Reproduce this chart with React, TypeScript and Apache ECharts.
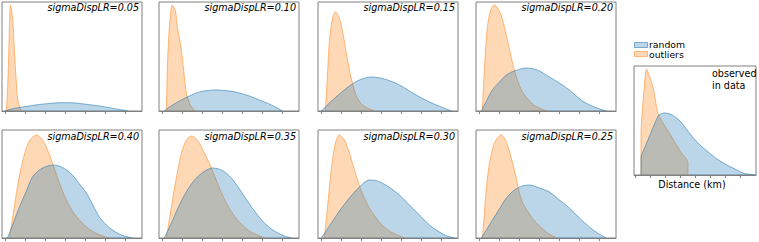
import React, { useEffect, useRef } from "react";
import * as echarts from "echarts";

// Titles of the eight simulation panels (row 1 then row 2, left to right)
const panelTitles = [
  "sigmaDispLR=0.05",
  "sigmaDispLR=0.10",
  "sigmaDispLR=0.15",
  "sigmaDispLR=0.20",
  "sigmaDispLR=0.40",
  "sigmaDispLR=0.35",
  "sigmaDispLR=0.30",
  "sigmaDispLR=0.25",
];

// Distance ticks (km)
const smallTicks = [0, 1, 2, 3, 4, 5, 6];
const obsTicks = [0, 1, 2, 3, 4, 5, 6, 7];

// Density curves [distance km, density (scaled)]
const outliers005: [number, number][] = [[0.05,0],[0.12,28],[0.17,61],[0.2,84],[0.25,106],[0.3,102],[0.37,91],[0.45,61],[0.54,31],[0.62,11],[0.74,3],[0.8,0]];
const random005: [number, number][] = [[0.0,0],[0.2,1.5],[0.7,3.5],[1.2,5],[1.7,6.5],[2.2,7.5],[2.7,8.3],[3.2,8.3],[3.7,7.5],[4.2,6.3],[4.7,5],[5.2,3.3],[5.7,1.5],[6.1,0.3]];

const outliers010: [number, number][] = [[0.2,0],[0.25,44],[0.35,84],[0.5,106],[0.65,100],[0.75,84],[0.95,61],[1.2,18],[1.4,6],[1.65,0]];
const random010: [number, number][] = [[0.1,0],[0.35,4],[0.85,10],[1.35,15],[1.85,19],[2.6,21],[3.35,20],[3.85,18],[4.35,15],[4.85,11],[5.35,7],[5.75,3],[6.0,0]];

const outliers015: [number, number][] = [[0.2,0],[0.3,35],[0.4,70],[0.55,92],[0.7,99],[0.9,93],[1.1,75],[1.3,52],[1.5,32],[1.75,15],[2.05,6],[2.4,2],[2.65,0]];
const random015: [number, number][] = [[0,0],[0.4,8],[0.9,17],[1.4,25],[1.9,31],[2.5,34],[3.15,32],[3.9,26],[4.65,17],[5.4,9],[6.0,4],[6.5,0]];

const outliers020: [number, number][] = [[0.15,0],[0.25,43],[0.4,84],[0.55,100],[0.75,106],[1.0,100],[1.2,88],[1.4,71],[1.75,41],[2.1,21],[2.65,7],[3.0,3],[3.35,0]];
const random020: [number, number][] = [[0.1,0],[0.35,10],[0.65,21],[1.0,29],[1.35,36],[1.75,40],[2.35,43],[2.9,41],[3.5,34],[4.0,28],[4.5,21],[5.15,10],[5.75,4],[6.35,0]];

const outliers040: [number, number][] = [[0.2,0],[0.4,25],[0.6,51],[0.9,80],[1.2,97],[1.55,103],[1.95,95],[2.35,75],[2.7,55],[3.05,38],[3.45,24],[4.05,11],[4.6,4],[5.2,0]];
const random040: [number, number][] = [[0.1,0],[0.4,15],[0.7,31],[1.05,47],[1.35,61],[1.7,68],[2.1,72],[2.45,73],[2.9,70],[3.35,63],[3.7,54],[4.05,45],[4.4,32],[4.7,21],[5.05,13],[5.35,8],[5.8,3],[6.35,0]];

const outliers035: [number, number][] = [[0.2,0],[0.4,25],[0.65,55],[0.95,85],[1.2,98],[1.45,102],[1.75,98],[2.1,85],[2.45,70],[2.85,50],[3.25,33],[3.75,18],[4.35,7],[5.1,0]];
const random035: [number, number][] = [[0.1,0],[0.45,15],[0.85,33],[1.25,48],[1.65,59],[2.05,66],[2.5,70],[2.95,68],[3.35,62],[3.75,52],[4.15,40],[4.6,27],[5.1,15],[5.6,7],[6.1,2],[6.45,0]];

const outliers030: [number, number][] = [[0.15,0],[0.3,30],[0.5,70],[0.7,95],[0.9,103],[1.15,98],[1.4,85],[1.7,65],[2.0,47],[2.4,30],[2.9,16],[3.4,7],[4.15,0]];
const random030: [number, number][] = [[0,0],[0.4,12],[0.9,27],[1.4,40],[1.9,51],[2.4,58],[2.8,57],[3.3,52],[3.9,43],[4.4,33],[4.9,23],[5.4,13],[5.9,6],[6.3,2],[6.65,0]];

const outliers025: [number, number][] = [[0.15,0],[0.25,25],[0.35,51],[0.55,80],[0.8,97],[1.1,103],[1.4,93],[1.75,68],[2.1,38],[2.5,24],[2.85,15],[3.35,6],[3.85,0]];
const random025: [number, number][] = [[0.1,0],[0.35,8],[0.65,18],[1.0,29],[1.35,40],[1.75,48],[2.15,52],[2.5,53],[3.0,50],[3.5,46],[4.0,38],[4.5,30],[5.0,20],[5.5,11],[5.9,5],[6.35,0]];

const outliersObs: [number, number][] = [[0.4,0],[0.4,40],[0.47,60],[0.6,85],[0.77,106],[0.93,100],[1.2,88],[1.53,62],[1.87,52],[2.53,36],[3.0,24],[3.53,12],[3.53,0]];
const randomObs: [number, number][] = [[0.4,0],[0.4,17],[0.67,28],[1.0,40],[1.33,52],[1.6,60],[2.0,62],[2.47,60],[3.0,54],[3.47,45],[4.13,33],[4.8,24],[5.47,16],[6.13,10],[6.67,6],[7.2,2],[8.0,0]];

const legendLabels = ["random", "outliers"];
const obsLabel = ["observed", "in data"];
const xAxisName = "Distance (km)";

const panelOutliers = [outliers005, outliers010, outliers015, outliers020, outliers040, outliers035, outliers030, outliers025];
const panelRandom = [random005, random010, random015, random020, random040, random035, random030, random025];

const BLUE = "#1f77b4";
const ORANGE = "#ff7f0e";
const FILL_BLUE = "rgba(31,119,180,0.3)";
const FILL_ORANGE = "rgba(255,127,14,0.3)";
const LINE_BLUE = "rgba(31,119,180,0.55)";
const LINE_ORANGE = "rgba(255,127,14,0.5)";
const BORDER = "#808080";
const FONT = "DejaVu Sans";

export default function App() {
  const ref = useRef<HTMLDivElement>(null);

  useEffect(() => {
    if (!ref.current) return;
    const chart = echarts.init(ref.current, undefined, { renderer: "svg", width: 759, height: 242 });

    const lefts = [2, 159, 318, 476];
    const tops = [2, 130];
    const heights = [109, 108];
    const pw = 140;

    const grids: any[] = [];
    const xAxes: any[] = [];
    const yAxes: any[] = [];
    const series: any[] = [];
    const graphics: any[] = [];

    const addPanel = (
      idx: number,
      left: number,
      top: number,
      width: number,
      height: number,
      xmin: number,
      xmax: number,
      ticks: number[],
      outl: [number, number][],
      rand: [number, number][]
    ) => {
      grids.push({
        left, top, width, height,
        show: true, borderColor: BORDER, borderWidth: 1, backgroundColor: "transparent",
      });
      xAxes.push({
        gridIndex: idx, type: "value", min: xmin, max: xmax,
        axisLine: { show: true, onZero: false, lineStyle: { color: BORDER, width: 1 } },
        axisTick: { show: true, length: 3, inside: false, customValues: ticks, lineStyle: { color: BORDER, width: 1 } },
        axisLabel: { show: false },
        splitLine: { show: false },
      });
      yAxes.push({
        gridIndex: idx, type: "value", min: 0, max: height,
        axisLine: { show: false }, axisTick: { show: false }, axisLabel: { show: false }, splitLine: { show: false },
      });
      series.push({
        type: "line", xAxisIndex: idx, yAxisIndex: idx, data: outl, symbol: "none", smooth: 0.3,
        lineStyle: { color: LINE_ORANGE, width: 1 }, itemStyle: { color: ORANGE },
        areaStyle: { color: FILL_ORANGE, opacity: 1 }, silent: true, z: 2,
      });
      series.push({
        type: "line", xAxisIndex: idx, yAxisIndex: idx, data: rand, symbol: "none", smooth: 0.3,
        lineStyle: { color: LINE_BLUE, width: 1 }, itemStyle: { color: BLUE },
        areaStyle: { color: FILL_BLUE, opacity: 1 }, silent: true, z: 3,
      });
    };

    for (let i = 0; i < 8; i++) {
      const row = Math.floor(i / 4);
      const col = i % 4;
      const left = lefts[col];
      const top = tops[row];
      const h = heights[row];
      addPanel(i, left, top, pw, h, -0.17, -0.17 + pw / 20, smallTicks, panelOutliers[i], panelRandom[i]);
      graphics.push({
        type: "text",
        x: left + pw - 3,
        y: row === 0 ? 7 : 136,
        style: {
          text: panelTitles[i], align: "right", verticalAlign: "middle",
          fontSize: 9.6, fontStyle: "italic", fontFamily: FONT, fill: "#000",
        },
        z: 10,
      });
    }

    // observed panel
    const oLeft = 634, oTop = 66, oW = 122, oH = 109;
    addPanel(8, oLeft, oTop, oW, oH, -1 / 15, -1 / 15 + oW / 15, obsTicks, outliersObs, randomObs);

    graphics.push(
      { type: "rect", shape: { x: 634.5, y: 42.5, width: 13, height: 5 }, style: { fill: FILL_BLUE, stroke: LINE_BLUE, lineWidth: 1 }, z: 10 },
      { type: "rect", shape: { x: 634.5, y: 51.5, width: 13, height: 5 }, style: { fill: FILL_ORANGE, stroke: LINE_ORANGE, lineWidth: 1 }, z: 10 },
      { type: "text", x: 649, y: 44.8, style: { text: legendLabels[0], align: "left", verticalAlign: "middle", fontSize: 9.3, fontFamily: FONT, fill: "#000" }, z: 10 },
      { type: "text", x: 649, y: 54.3, style: { text: legendLabels[1], align: "left", verticalAlign: "middle", fontSize: 9.3, fontFamily: FONT, fill: "#000" }, z: 10 },
      { type: "text", x: 712, y: 73.4, style: { text: obsLabel[0], align: "left", verticalAlign: "middle", fontSize: 9.6, fontFamily: FONT, fill: "#000" }, z: 10 },
      { type: "text", x: 712, y: 85, style: { text: obsLabel[1], align: "left", verticalAlign: "middle", fontSize: 9.6, fontFamily: FONT, fill: "#000" }, z: 10 },
      { type: "text", x: 692, y: 184.5, style: { text: xAxisName, align: "center", verticalAlign: "middle", fontSize: 9.6, fontFamily: FONT, fill: "#000" }, z: 10 }
    );

    chart.setOption({
      animation: false,
      backgroundColor: "#ffffff",
      grid: grids,
      xAxis: xAxes,
      yAxis: yAxes,
      series,
      graphic: graphics,
    });

    return () => {
      chart.dispose();
    };
  }, []);

  return (
    <div
      ref={ref}
      style={{ position: "fixed", left: 0, top: 0, width: 759, height: 242, background: "#fff" }}
    />
  );
}
